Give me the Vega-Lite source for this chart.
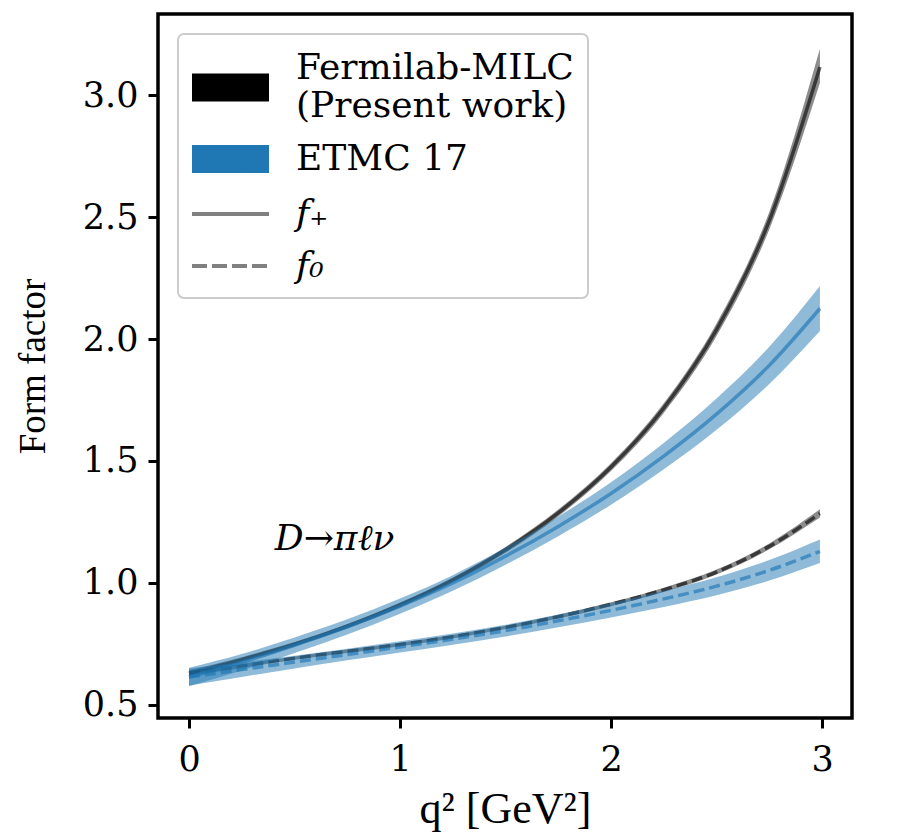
{
  "$schema": "https://vega.github.io/schema/vega-lite/v6.json",
  "width": 694,
  "height": 704,
  "autosize": {"type": "none"},
  "padding": {"left": 158, "top": 14, "right": 63, "bottom": 115},
  "background": "white",
  "config": {
    "view": {"stroke": "black", "strokeWidth": 3.5},
    "axis": {
      "domain": false,
      "grid": false,
      "tickColor": "black",
      "tickWidth": 3,
      "tickSize": 10,
      "labelFont": "DejaVu Serif",
      "labelFontSize": 35,
      "labelColor": "black",
      "titleFont": "Liberation Serif",
      "titleFontWeight": "normal",
      "titleColor": "black"
    },
    "legend": {
      "orient": "top-left",
      "offset": 20,
      "padding": 14,
      "strokeColor": "#cccccc",
      "strokeWidth": 2,
      "cornerRadius": 6,
      "fillColor": "white",
      "labelFont": "DejaVu Serif",
      "labelFontSize": 36,
      "labelColor": "black",
      "labelLimit": 500,
      "labelOffset": 64,
      "symbolSize": 1296,
      "symbolStrokeWidth": 4,
      "rowPadding": 14
    }
  },
  "datasets": {
    "curves": [
      {"src": "FNAL", "ff": "f+", "q": 0, "v": 0.630, "lo": 0.618, "hi": 0.642},
      {"src": "FNAL", "ff": "f+", "q": 0.25, "v": 0.686, "lo": 0.676, "hi": 0.696},
      {"src": "FNAL", "ff": "f+", "q": 0.5, "v": 0.749, "lo": 0.740, "hi": 0.758},
      {"src": "FNAL", "ff": "f+", "q": 0.75, "v": 0.823, "lo": 0.814, "hi": 0.832},
      {"src": "FNAL", "ff": "f+", "q": 1.0, "v": 0.910, "lo": 0.900, "hi": 0.920},
      {"src": "FNAL", "ff": "f+", "q": 1.25, "v": 1.012, "lo": 1.001, "hi": 1.023},
      {"src": "FNAL", "ff": "f+", "q": 1.5, "v": 1.136, "lo": 1.124, "hi": 1.148},
      {"src": "FNAL", "ff": "f+", "q": 1.75, "v": 1.287, "lo": 1.273, "hi": 1.301},
      {"src": "FNAL", "ff": "f+", "q": 2.0, "v": 1.475, "lo": 1.459, "hi": 1.491},
      {"src": "FNAL", "ff": "f+", "q": 2.25, "v": 1.717, "lo": 1.697, "hi": 1.737},
      {"src": "FNAL", "ff": "f+", "q": 2.5, "v": 2.038, "lo": 2.012, "hi": 2.064},
      {"src": "FNAL", "ff": "f+", "q": 2.75, "v": 2.485, "lo": 2.449, "hi": 2.521},
      {"src": "FNAL", "ff": "f+", "q": 2.99, "v": 3.115, "lo": 3.050, "hi": 3.190},
      {"src": "FNAL", "ff": "f0", "q": 0, "v": 0.630, "lo": 0.620, "hi": 0.640},
      {"src": "FNAL", "ff": "f0", "q": 0.25, "v": 0.660, "lo": 0.652, "hi": 0.668},
      {"src": "FNAL", "ff": "f0", "q": 0.5, "v": 0.692, "lo": 0.685, "hi": 0.699},
      {"src": "FNAL", "ff": "f0", "q": 0.75, "v": 0.720, "lo": 0.713, "hi": 0.727},
      {"src": "FNAL", "ff": "f0", "q": 1.0, "v": 0.748, "lo": 0.741, "hi": 0.755},
      {"src": "FNAL", "ff": "f0", "q": 1.25, "v": 0.780, "lo": 0.773, "hi": 0.787},
      {"src": "FNAL", "ff": "f0", "q": 1.5, "v": 0.818, "lo": 0.811, "hi": 0.825},
      {"src": "FNAL", "ff": "f0", "q": 1.75, "v": 0.862, "lo": 0.854, "hi": 0.870},
      {"src": "FNAL", "ff": "f0", "q": 2.0, "v": 0.913, "lo": 0.905, "hi": 0.921},
      {"src": "FNAL", "ff": "f0", "q": 2.25, "v": 0.972, "lo": 0.963, "hi": 0.981},
      {"src": "FNAL", "ff": "f0", "q": 2.5, "v": 1.045, "lo": 1.035, "hi": 1.055},
      {"src": "FNAL", "ff": "f0", "q": 2.75, "v": 1.150, "lo": 1.138, "hi": 1.162},
      {"src": "FNAL", "ff": "f0", "q": 2.99, "v": 1.285, "lo": 1.268, "hi": 1.302},
      {"src": "ETMC", "ff": "f+", "q": 0, "v": 0.615, "lo": 0.577, "hi": 0.653},
      {"src": "ETMC", "ff": "f+", "q": 0.25, "v": 0.675, "lo": 0.641, "hi": 0.709},
      {"src": "ETMC", "ff": "f+", "q": 0.5, "v": 0.745, "lo": 0.713, "hi": 0.777},
      {"src": "ETMC", "ff": "f+", "q": 0.75, "v": 0.820, "lo": 0.789, "hi": 0.851},
      {"src": "ETMC", "ff": "f+", "q": 1.0, "v": 0.905, "lo": 0.874, "hi": 0.936},
      {"src": "ETMC", "ff": "f+", "q": 1.25, "v": 1.000, "lo": 0.968, "hi": 1.032},
      {"src": "ETMC", "ff": "f+", "q": 1.5, "v": 1.110, "lo": 1.075, "hi": 1.145},
      {"src": "ETMC", "ff": "f+", "q": 1.75, "v": 1.232, "lo": 1.192, "hi": 1.272},
      {"src": "ETMC", "ff": "f+", "q": 2.0, "v": 1.367, "lo": 1.321, "hi": 1.413},
      {"src": "ETMC", "ff": "f+", "q": 2.25, "v": 1.520, "lo": 1.466, "hi": 1.574},
      {"src": "ETMC", "ff": "f+", "q": 2.5, "v": 1.692, "lo": 1.628, "hi": 1.756},
      {"src": "ETMC", "ff": "f+", "q": 2.75, "v": 1.892, "lo": 1.816, "hi": 1.968},
      {"src": "ETMC", "ff": "f+", "q": 2.99, "v": 2.125, "lo": 2.033, "hi": 2.217},
      {"src": "ETMC", "ff": "f0", "q": 0, "v": 0.615, "lo": 0.580, "hi": 0.650},
      {"src": "ETMC", "ff": "f0", "q": 0.25, "v": 0.645, "lo": 0.615, "hi": 0.675},
      {"src": "ETMC", "ff": "f0", "q": 0.5, "v": 0.676, "lo": 0.650, "hi": 0.702},
      {"src": "ETMC", "ff": "f0", "q": 0.75, "v": 0.707, "lo": 0.683, "hi": 0.731},
      {"src": "ETMC", "ff": "f0", "q": 1.0, "v": 0.738, "lo": 0.715, "hi": 0.761},
      {"src": "ETMC", "ff": "f0", "q": 1.25, "v": 0.770, "lo": 0.747, "hi": 0.793},
      {"src": "ETMC", "ff": "f0", "q": 1.5, "v": 0.805, "lo": 0.781, "hi": 0.829},
      {"src": "ETMC", "ff": "f0", "q": 1.75, "v": 0.845, "lo": 0.819, "hi": 0.871},
      {"src": "ETMC", "ff": "f0", "q": 2.0, "v": 0.888, "lo": 0.859, "hi": 0.917},
      {"src": "ETMC", "ff": "f0", "q": 2.25, "v": 0.935, "lo": 0.902, "hi": 0.968},
      {"src": "ETMC", "ff": "f0", "q": 2.5, "v": 0.987, "lo": 0.950, "hi": 1.024},
      {"src": "ETMC", "ff": "f0", "q": 2.75, "v": 1.052, "lo": 1.010, "hi": 1.094},
      {"src": "ETMC", "ff": "f0", "q": 2.99, "v": 1.130, "lo": 1.082, "hi": 1.178}
    ],
    "legendEntries": [
      {"entry": "Fermilab-MILC"},
      {"entry": "ETMC 17"},
      {"entry": "f₊"},
      {"entry": "f₀"}
    ],
    "note": [
      {"q": 0.69, "v": 1.18, "label": "D→πℓν"}
    ]
  },
  "encoding": {
    "x": {
      "field": "q",
      "type": "quantitative",
      "scale": {"domain": [-0.147, 3.142], "nice": false, "zero": false},
      "axis": {"values": [0, 1, 2, 3], "format": "d", "labelPadding": 14, "title": "q² [GeV²]", "titleFontSize": 44, "titlePadding": 10}
    },
    "y": {
      "field": "v",
      "type": "quantitative",
      "scale": {"domain": [0.4467, 3.332], "nice": false, "zero": false},
      "axis": {"values": [0.5, 1.0, 1.5, 2.0, 2.5, 3.0], "format": ".1f", "labelPadding": 10, "title": "Form factor", "titleFontSize": 37, "titlePadding": 30}
    }
  },
  "layer": [
    {
      "data": {"name": "curves"},
      "transform": [{"filter": "datum.src == 'FNAL'"}],
      "mark": {"type": "area", "color": "#000000", "opacity": 0.45, "interpolate": "monotone"},
      "encoding": {"y": {"field": "lo", "type": "quantitative"}, "y2": {"field": "hi"}, "detail": {"field": "ff"}}
    },
    {
      "data": {"name": "curves"},
      "transform": [{"filter": "datum.src == 'FNAL' && datum.ff == 'f+'"}],
      "mark": {"type": "line", "color": "#000000", "opacity": 0.6, "strokeWidth": 3.5, "interpolate": "monotone"},
      "encoding": {}
    },
    {
      "data": {"name": "curves"},
      "transform": [{"filter": "datum.src == 'FNAL' && datum.ff == 'f0'"}],
      "mark": {"type": "line", "color": "#000000", "opacity": 0.6, "strokeWidth": 3.5, "strokeDash": [11, 5], "interpolate": "monotone"},
      "encoding": {}
    },
    {
      "data": {"name": "curves"},
      "transform": [{"filter": "datum.src == 'ETMC'"}],
      "mark": {"type": "area", "color": "#1f77b4", "opacity": 0.5, "interpolate": "monotone"},
      "encoding": {"y": {"field": "lo", "type": "quantitative"}, "y2": {"field": "hi"}, "detail": {"field": "ff"}}
    },
    {
      "data": {"name": "curves"},
      "transform": [{"filter": "datum.src == 'ETMC' && datum.ff == 'f+'"}],
      "mark": {"type": "line", "color": "#1f77b4", "opacity": 0.65, "strokeWidth": 3.5, "interpolate": "monotone"},
      "encoding": {}
    },
    {
      "data": {"name": "curves"},
      "transform": [{"filter": "datum.src == 'ETMC' && datum.ff == 'f0'"}],
      "mark": {"type": "line", "color": "#1f77b4", "opacity": 0.65, "strokeWidth": 3.5, "strokeDash": [11, 5], "interpolate": "monotone"},
      "encoding": {}
    },
    {
      "data": {"name": "legendEntries"},
      "mark": {"type": "line"},
      "encoding": {
        "x": {"field": "qq", "type": "quantitative"},
        "y": {"field": "vv", "type": "quantitative"},
        "color": {
          "field": "entry",
          "type": "nominal",
          "scale": {"domain": ["Fermilab-MILC", "ETMC 17", "f₊", "f₀"], "range": ["#000000", "#1f77b4", "#808080", "#808080"]},
          "legend": {
            "title": null,
            "labelExpr": "datum.label == 'Fermilab-MILC' ? ['Fermilab-MILC', '(Present work)'] : datum.label",
            "encode": {
              "labels": {"update": {
                "fontStyle": {"signal": "datum.label == 'f₊' || datum.label == 'f₀' ? 'italic' : 'normal'"}
              }},
              "symbols": {"update": {
                "shape": {"signal": "datum.value == 'f₊' || datum.value == 'f₀' ? 'M-1.111,0H3.167' : 'M-1,-0.667H3.056V0.667H-1Z'"},
                "fill": {"signal": "datum.value == 'f₊' || datum.value == 'f₀' ? 'transparent' : scale('color', datum.value)"},
                "strokeDash": {"signal": "datum.value == 'f₀' ? [15, 5] : [1, 0]"},
                "y": {"signal": "datum.value == 'Fermilab-MILC' ? 39.5 : 20"}
              }}
            }
          }
        }
      }
    },
    {
      "data": {"name": "note"},
      "mark": {"type": "text", "font": "DejaVu Serif", "fontStyle": "italic", "fontSize": 36, "color": "black", "align": "center", "baseline": "middle"},
      "encoding": {"text": {"field": "label"}}
    }
  ]
}
